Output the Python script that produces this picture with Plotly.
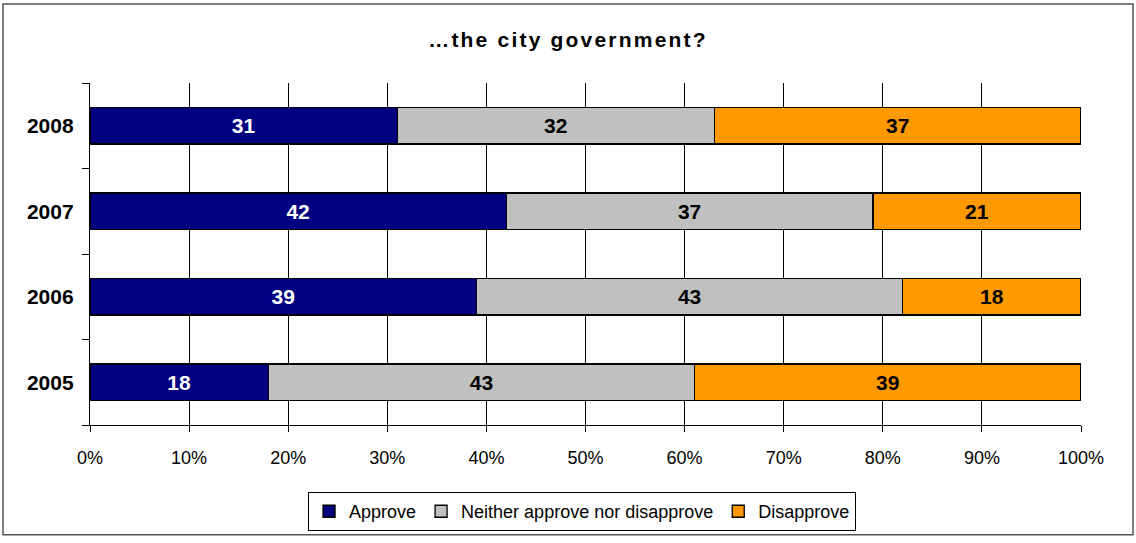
import plotly.graph_objects as go

years = ["2005", "2006", "2007", "2008"]
approve = [18, 39, 42, 31]
neither = [43, 43, 37, 32]
disapprove = [39, 18, 21, 37]

series = [
    ("Approve", approve, "#000080", "white"),
    ("Neither approve nor disapprove", neither, "#C0C0C0", "black"),
    ("Disapprove", disapprove, "#FF9900", "black"),
]

FONT = "Liberation Sans, Arial, sans-serif"

fig = go.Figure()
for name, vals, color, txtcolor in series:
    fig.add_trace(go.Bar(
        y=years, x=vals, name=name, orientation="h",
        marker=dict(color=color, line=dict(color="black", width=1.3)),
        text=[str(v) for v in vals],
        textposition="inside", insidetextanchor="middle", textangle=0,
        constraintext="none",
        textfont=dict(family=FONT, size=21, color=txtcolor, weight="bold"),
        width=0.43,
    ))

fig.update_layout(
    barmode="stack",
    width=1136, height=543,
    margin=dict(l=90, r=55, t=83, b=114),
    paper_bgcolor="white", plot_bgcolor="white",
    font=dict(family=FONT, color="black"),
    title=dict(text='<span style="letter-spacing:2.2px"><b>…the city government?</b></span>',
               x=0.5, xanchor="center", xref="container",
               y=1 - 40 / 543, yanchor="middle",
               font=dict(size=21, color="black")),
    showlegend=True,
    legend=dict(orientation="h", x=0.4965, xanchor="center", y=-0.196, yanchor="top",
                bordercolor="black", borderwidth=1, font=dict(size=18),
                traceorder="normal", itemwidth=30, tracegroupgap=0),
    xaxis=dict(range=[0, 100], tickvals=list(range(0, 101, 10)),
               ticktext=[f"{v}%" for v in range(0, 101, 10)],
               showgrid=True, gridcolor="black", gridwidth=1,
               showline=True, linecolor="black", linewidth=1.3,
               ticks="outside", ticklen=6, tickcolor="black",
               tickfont=dict(size=18), ticklabelstandoff=10,
               zeroline=False, fixedrange=True),
    yaxis=dict(categoryorder="array", categoryarray=years,
               showline=True, linecolor="black", linewidth=1.3,
               ticks="outside", tickson="boundaries", ticklen=7,
               tickcolor="black", showgrid=False,
               tickfont=dict(size=21, weight="bold"), ticklabelstandoff=11),
    shapes=[dict(type="rect", xref="paper", yref="paper",
                 x0=-87 / 991, x1=1 + 52 / 991, y0=-111 / 346, y1=1 + 80 / 346,
                 line=dict(color="#555555", width=1.5))],
)

fig.write_html("out.html")
